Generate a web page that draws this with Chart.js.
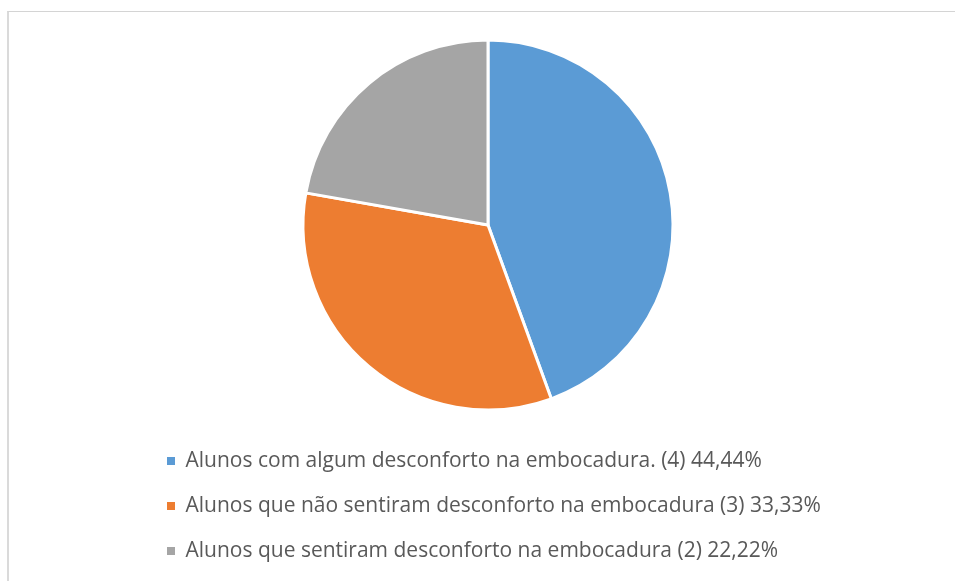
<!DOCTYPE html>
<html>
<head>
<meta charset="utf-8">
<script src="https://cdn.jsdelivr.net/npm/chart.js@4/dist/chart.umd.min.js"></script>
<style>
  html, body { margin: 0; padding: 0; background: #ffffff; overflow: hidden; }
  #wrap { position: relative; width: 955px; height: 581px; overflow: hidden; }
  #frame { position: absolute; left: 7px; top: 11px; width: 980px; height: 600px;
           border-left: 2px solid #dadada; border-top: 1px solid #d4d4d4; box-sizing: border-box; }
  #c { position: absolute; left: 0; top: 0; }
</style>
</head>
<body>
<div id="wrap">
  <div id="frame"></div>
  <canvas id="c" width="955" height="581"></canvas>
</div>
<script>
const categories = [
  "Alunos com algum desconforto na embocadura. (4) 44,44%",
  "Alunos que não sentiram desconforto na embocadura (3) 33,33%",
  "Alunos que sentiram desconforto na embocadura (2) 22,22%"
];
const counts = [4, 3, 2];
const sliceColors = ["#5B9BD5", "#ED7D31", "#A5A5A5"];

const FONT = 21;
const PAD = 45 - FONT;
const legendTop = 461 - PAD - FONT / 2;
const L = 167 - PAD;
const R = L - 21;
const T = 450 - legendTop;
const B = 581 - (legendTop + 3 * 45 + 10);

new Chart(document.getElementById('c'), {
  type: 'pie',
  data: {
    labels: categories,
    datasets: [{
      data: counts,
      backgroundColor: sliceColors,
      borderColor: '#ffffff',
      borderWidth: 3,
      radius: 185
    }]
  },
  options: {
    responsive: false,
    devicePixelRatio: 1,
    animation: false,
    layout: { padding: { left: L, right: R, top: T, bottom: B } },
    plugins: {
      tooltip: { enabled: false },
      legend: {
        position: 'bottom',
        align: 'start',
        labels: {
          boxWidth: 8,
          boxHeight: 8,
          padding: PAD,
          color: '#595959',
          font: { family: 'Open Sans', size: FONT },
          generateLabels(chart) {
            const items = Chart.overrides.pie.plugins.legend.labels.generateLabels(chart);
            items.forEach(it => { it.lineWidth = 0; it.strokeStyle = it.fillStyle; });
            return items;
          }
        }
      }
    }
  }
});
</script>
</body>
</html>
